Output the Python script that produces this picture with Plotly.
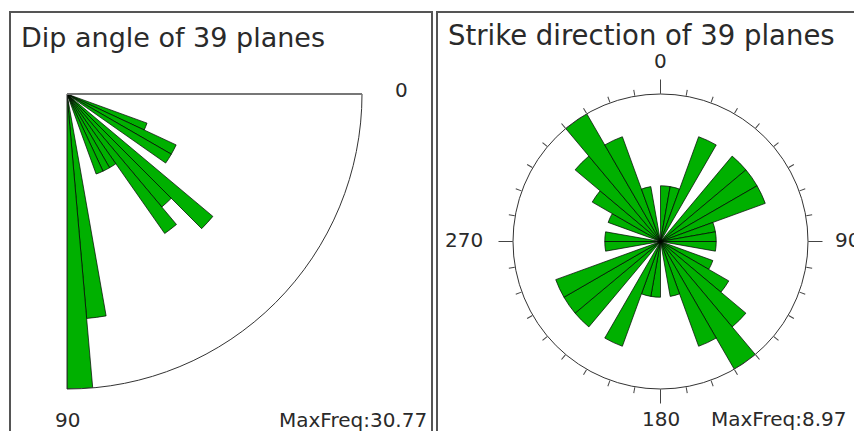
import math
import plotly.graph_objects as go

W, H = 854, 431

# ---- data -------------------------------------------------------------
# Dip angle histogram: 5-degree bins from 0 to 90, number of planes per bin
dip_bin_start = list(range(0, 90, 5))
dip_counts = [0, 0, 0, 0, 1, 2, 2, 0, 5, 3, 4, 1, 1, 1, 0, 0, 7, 12]

# Strike direction rose: 10-degree bins from 0 to 360 (bidirectional counts)
strike_bin_start = list(range(0, 360, 10))
strike_counts = [1, 1, 4, 0, 4, 4, 4, 1, 1, 1, 0, 1, 2, 4, 7, 4, 1, 0,
                 1, 1, 4, 0, 4, 4, 4, 0, 1, 1, 0, 1, 2, 4, 7, 4, 1, 0]

n_planes = 39
dip_title = f"Dip angle of {n_planes} planes"
strike_title = f"Strike direction of {n_planes} planes"
dip_maxfreq_label = "MaxFreq:30.77"
strike_maxfreq_label = "MaxFreq:8.97"
dip_tick_labels = ["0", "90"]
strike_tick_labels = ["0", "90", "180", "270"]

# ---- styling ------------------------------------------------------------
GREEN = "#00b000"
FONT = "DejaVu Sans"
TXT = "#2a2a2a"


def dom(x0, x1, y0, y1):
    return dict(x=[x0 / W, x1 / W], y=[1 - y1 / H, 1 - y0 / H])


fig = go.Figure()

# equal-area rose: radius proportional to sqrt(count)
fig.add_trace(go.Barpolar(
    r=[math.sqrt(c) for c in dip_counts],
    theta=[b + 2.5 for b in dip_bin_start],
    width=[5] * len(dip_bin_start),
    marker=dict(color=GREEN, line=dict(color="black", width=0.7)),
    subplot="polar", showlegend=False, hoverinfo="skip"))

fig.add_trace(go.Barpolar(
    r=[math.sqrt(c) for c in strike_counts],
    theta=[b + 5 for b in strike_bin_start],
    width=[10] * len(strike_bin_start),
    marker=dict(color=GREEN, line=dict(color="black", width=0.7)),
    subplot="polar2", showlegend=False, hoverinfo="skip"))

# empty trace to materialise the overlay subplot carrying long cardinal ticks
fig.add_trace(go.Scatterpolar(r=[], theta=[], subplot="polar3",
                              showlegend=False, hoverinfo="skip"))

fig.update_layout(
    width=W, height=H,
    margin=dict(l=0, r=0, t=0, b=0),
    paper_bgcolor="white",
    plot_bgcolor="white",
    showlegend=False,
    polar=dict(
        domain=dom(67, 362, 94, 389),
        sector=[270, 360],
        bgcolor="white",
        angularaxis=dict(direction="clockwise", rotation=0,
                         tickmode="array", tickvals=list(range(0, 91, 10)),
                         ticks="outside", ticklen=9, tickwidth=1, tickcolor="#444",
                         showticklabels=False, showline=True,
                         linecolor="#333", linewidth=1, showgrid=False),
        radialaxis=dict(range=[0, math.sqrt(max(dip_counts))], angle=0,
                        showline=True, linecolor="#777", linewidth=2,
                        showticklabels=False, ticks="", showgrid=False),
    ),
    polar2=dict(
        domain=dom(513, 808, 94, 389),
        bgcolor="white",
        angularaxis=dict(direction="clockwise", rotation=90,
                         tickmode="linear", tick0=0, dtick=10,
                         ticks="outside", ticklen=6, tickwidth=1, tickcolor="#444",
                         showticklabels=False, showline=True,
                         linecolor="#333", linewidth=1, showgrid=False),
        radialaxis=dict(range=[0, math.sqrt(max(strike_counts))], visible=False,
                        showgrid=False),
    ),
    polar3=dict(
        domain=dom(513, 808, 94, 389),
        bgcolor="rgba(0,0,0,0)",
        angularaxis=dict(direction="clockwise", rotation=90,
                         tickmode="linear", tick0=0, dtick=90,
                         ticks="outside", ticklen=14, tickwidth=1, tickcolor="#444",
                         showticklabels=False, showline=False, showgrid=False),
        radialaxis=dict(range=[0, 1], visible=False, showgrid=False),
    ),
)

# panel frames
fig.add_shape(type="rect", xref="paper", yref="paper",
              x0=10 / W, x1=432 / W, y0=-0.05, y1=1 - 12 / H,
              line=dict(color="#555", width=2), layer="below")
fig.add_shape(type="rect", xref="paper", yref="paper",
              x0=437 / W, x1=1.05, y0=-0.05, y1=1 - 12 / H,
              line=dict(color="#555", width=2), layer="below")


def ann(text, x, y, size, xanchor="center"):
    fig.add_annotation(text=text, x=x / W, y=1 - y / H, xref="paper", yref="paper",
                       xanchor=xanchor, yanchor="middle", showarrow=False,
                       font=dict(family=FONT, size=size, color=TXT))


ann(dip_title, 19, 37, 27, "left")
ann(strike_title, 446, 35, 27.5, "left")

ann(dip_tick_labels[0], 401, 90, 20)
ann(dip_tick_labels[1], 67, 420, 20)
ann(dip_maxfreq_label, 429, 420, 20, "right")

ann(strike_tick_labels[0], 660, 61, 20)
ann(strike_tick_labels[1], 833, 240, 20, "left")
ann(strike_tick_labels[2], 661, 419, 20)
ann(strike_tick_labels[3], 485, 240, 20, "right")
ann(strike_maxfreq_label, 848, 419, 20, "right")

fig.write_html(
    "out.html",
    config={"displayModeBar": False, "staticPlot": True},
    post_script="document.body.style.margin='0px';"
                "document.body.style.padding='0px';"
                "document.body.style.overflow='hidden';",
)
